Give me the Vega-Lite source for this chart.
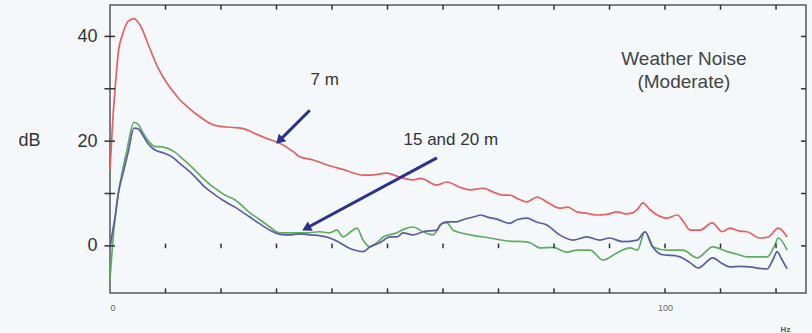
{
  "$schema": "https://vega.github.io/schema/vega-lite/v6.json",
  "width": 696,
  "height": 288,
  "autosize": {"type": "none"},
  "padding": {"left": 110, "top": 5, "right": 6, "bottom": 40},
  "background": "#f4f8fb",
  "config": {
    "view": {"stroke": "#555555", "strokeWidth": 1.5, "fill": "#f4f8fb"},
    "font": "Liberation Sans"
  },
  "datasets": {
    "curves": [
      {"hz": 0, "db": 14.5, "series": "7 m"}, {"hz": 0.5, "db": 24, "series": "7 m"}, {"hz": 1, "db": 31, "series": "7 m"}, {"hz": 1.5, "db": 37, "series": "7 m"}, {"hz": 2.3, "db": 40.5, "series": "7 m"}, {"hz": 3.2, "db": 42.8, "series": "7 m"}, {"hz": 4.3, "db": 43.4, "series": "7 m"}, {"hz": 5.5, "db": 42, "series": "7 m"}, {"hz": 6.8, "db": 38.7, "series": "7 m"}, {"hz": 8.6, "db": 34.1, "series": "7 m"}, {"hz": 10, "db": 31.5, "series": "7 m"}, {"hz": 11.2, "db": 29.7, "series": "7 m"}, {"hz": 12.5, "db": 28, "series": "7 m"}, {"hz": 14, "db": 26.5, "series": "7 m"}, {"hz": 16, "db": 24.8, "series": "7 m"}, {"hz": 18.9, "db": 23, "series": "7 m"}, {"hz": 21, "db": 22.7, "series": "7 m"}, {"hz": 22.5, "db": 22.6, "series": "7 m"}, {"hz": 24, "db": 22.4, "series": "7 m"}, {"hz": 26, "db": 21.5, "series": "7 m"}, {"hz": 28, "db": 20.6, "series": "7 m"}, {"hz": 30.6, "db": 19.6, "series": "7 m"}, {"hz": 33, "db": 18, "series": "7 m"}, {"hz": 34.2, "db": 17, "series": "7 m"}, {"hz": 36.6, "db": 16.4, "series": "7 m"}, {"hz": 39, "db": 15.5, "series": "7 m"}, {"hz": 42, "db": 14.6, "series": "7 m"}, {"hz": 45.6, "db": 13.5, "series": "7 m"}, {"hz": 47, "db": 13.5, "series": "7 m"}, {"hz": 49.9, "db": 13.9, "series": "7 m"}, {"hz": 52, "db": 13.2, "series": "7 m"}, {"hz": 54.6, "db": 12.6, "series": "7 m"}, {"hz": 56, "db": 12.9, "series": "7 m"}, {"hz": 58.9, "db": 11.6, "series": "7 m"}, {"hz": 60.7, "db": 12.2, "series": "7 m"}, {"hz": 63, "db": 11.2, "series": "7 m"}, {"hz": 64.9, "db": 10.7, "series": "7 m"}, {"hz": 67.2, "db": 11, "series": "7 m"}, {"hz": 69, "db": 10.3, "series": "7 m"}, {"hz": 70.8, "db": 9.7, "series": "7 m"}, {"hz": 72, "db": 9.7, "series": "7 m"}, {"hz": 73.9, "db": 8.8, "series": "7 m"}, {"hz": 75.1, "db": 8.4, "series": "7 m"}, {"hz": 76.9, "db": 9.3, "series": "7 m"}, {"hz": 79, "db": 8.2, "series": "7 m"}, {"hz": 81, "db": 7.2, "series": "7 m"}, {"hz": 82.5, "db": 7.4, "series": "7 m"}, {"hz": 84.1, "db": 6.5, "series": "7 m"}, {"hz": 86, "db": 6.2, "series": "7 m"}, {"hz": 87.7, "db": 5.9, "series": "7 m"}, {"hz": 89.5, "db": 6.0, "series": "7 m"}, {"hz": 91.4, "db": 6.5, "series": "7 m"}, {"hz": 93, "db": 6.1, "series": "7 m"}, {"hz": 94.2, "db": 6.3, "series": "7 m"}, {"hz": 95.2, "db": 7.2, "series": "7 m"}, {"hz": 96, "db": 8.2, "series": "7 m"}, {"hz": 97.3, "db": 6.9, "series": "7 m"}, {"hz": 98.6, "db": 5.9, "series": "7 m"}, {"hz": 100.4, "db": 5.3, "series": "7 m"}, {"hz": 102.2, "db": 5.9, "series": "7 m"}, {"hz": 103.4, "db": 4.5, "series": "7 m"}, {"hz": 104.5, "db": 3, "series": "7 m"}, {"hz": 106.3, "db": 3, "series": "7 m"}, {"hz": 108.5, "db": 4.4, "series": "7 m"}, {"hz": 110.3, "db": 2.7, "series": "7 m"}, {"hz": 111.7, "db": 3.4, "series": "7 m"}, {"hz": 113.5, "db": 2.8, "series": "7 m"}, {"hz": 114.8, "db": 2.7, "series": "7 m"}, {"hz": 117.1, "db": 1.5, "series": "7 m"}, {"hz": 118.6, "db": 1.7, "series": "7 m"}, {"hz": 120.4, "db": 3.4, "series": "7 m"}, {"hz": 122, "db": 1.7, "series": "7 m"},

      {"hz": 0, "db": -6.5, "series": "15 m"}, {"hz": 0.3, "db": -2, "series": "15 m"}, {"hz": 0.7, "db": 3, "series": "15 m"}, {"hz": 1.2, "db": 8, "series": "15 m"}, {"hz": 2, "db": 13, "series": "15 m"}, {"hz": 3, "db": 18, "series": "15 m"}, {"hz": 4.3, "db": 23.6, "series": "15 m"}, {"hz": 5, "db": 23.3, "series": "15 m"}, {"hz": 6, "db": 21.5, "series": "15 m"}, {"hz": 6.8, "db": 20.2, "series": "15 m"}, {"hz": 8, "db": 19, "series": "15 m"}, {"hz": 9.4, "db": 18.9, "series": "15 m"}, {"hz": 11.7, "db": 17.9, "series": "15 m"}, {"hz": 13.2, "db": 16.5, "series": "15 m"}, {"hz": 14.8, "db": 15, "series": "15 m"}, {"hz": 16.2, "db": 13.5, "series": "15 m"}, {"hz": 17.7, "db": 12, "series": "15 m"}, {"hz": 19.2, "db": 10.8, "series": "15 m"}, {"hz": 20.7, "db": 9.7, "series": "15 m"}, {"hz": 22.5, "db": 8.8, "series": "15 m"}, {"hz": 25.2, "db": 6.3, "series": "15 m"}, {"hz": 27, "db": 5, "series": "15 m"}, {"hz": 28.8, "db": 3.6, "series": "15 m"}, {"hz": 30.6, "db": 2.5, "series": "15 m"}, {"hz": 32.4, "db": 2.5, "series": "15 m"}, {"hz": 35.5, "db": 2.5, "series": "15 m"}, {"hz": 37.8, "db": 2.7, "series": "15 m"}, {"hz": 39.5, "db": 2.5, "series": "15 m"}, {"hz": 40.9, "db": 3, "series": "15 m"}, {"hz": 42, "db": 1.7, "series": "15 m"}, {"hz": 43.5, "db": 2.8, "series": "15 m"}, {"hz": 44.5, "db": 3.4, "series": "15 m"}, {"hz": 45.6, "db": 1.1, "series": "15 m"}, {"hz": 46.8, "db": -0.2, "series": "15 m"}, {"hz": 48.6, "db": 1.1, "series": "15 m"}, {"hz": 49.2, "db": 1.7, "series": "15 m"}, {"hz": 51.7, "db": 2.5, "series": "15 m"}, {"hz": 53, "db": 3.2, "series": "15 m"}, {"hz": 54.6, "db": 3.6, "series": "15 m"}, {"hz": 56.4, "db": 2.7, "series": "15 m"}, {"hz": 58.2, "db": 2.1, "series": "15 m"}, {"hz": 60, "db": 4.4, "series": "15 m"}, {"hz": 60.7, "db": 4.4, "series": "15 m"}, {"hz": 61.8, "db": 3, "series": "15 m"}, {"hz": 62.5, "db": 2.7, "series": "15 m"}, {"hz": 64.9, "db": 2.1, "series": "15 m"}, {"hz": 68.5, "db": 1.5, "series": "15 m"}, {"hz": 72, "db": 0.9, "series": "15 m"}, {"hz": 74.4, "db": 0.8, "series": "15 m"}, {"hz": 75.7, "db": 0.6, "series": "15 m"}, {"hz": 77.5, "db": -0.4, "series": "15 m"}, {"hz": 79.8, "db": -0.3, "series": "15 m"}, {"hz": 82.3, "db": -1.2, "series": "15 m"}, {"hz": 84.1, "db": -0.8, "series": "15 m"}, {"hz": 86.5, "db": -0.8, "series": "15 m"}, {"hz": 88.8, "db": -2.7, "series": "15 m"}, {"hz": 91.4, "db": -1.3, "series": "15 m"}, {"hz": 93.7, "db": -0.4, "series": "15 m"}, {"hz": 95, "db": -0.8, "series": "15 m"}, {"hz": 96.4, "db": 2.7, "series": "15 m"}, {"hz": 97.8, "db": -0.2, "series": "15 m"}, {"hz": 100.4, "db": -0.8, "series": "15 m"}, {"hz": 103.2, "db": -0.8, "series": "15 m"}, {"hz": 105.8, "db": -2.3, "series": "15 m"}, {"hz": 108.6, "db": -0.2, "series": "15 m"}, {"hz": 111.2, "db": -1.1, "series": "15 m"}, {"hz": 113, "db": -1.6, "series": "15 m"}, {"hz": 114.8, "db": -2.1, "series": "15 m"}, {"hz": 118.4, "db": -2.1, "series": "15 m"}, {"hz": 119.8, "db": 0.2, "series": "15 m"}, {"hz": 120.4, "db": 1.5, "series": "15 m"}, {"hz": 122, "db": -0.8, "series": "15 m"},

      {"hz": 0, "db": -0.5, "series": "20 m"}, {"hz": 0.5, "db": 3, "series": "20 m"}, {"hz": 1, "db": 6, "series": "20 m"}, {"hz": 1.5, "db": 10, "series": "20 m"}, {"hz": 2.5, "db": 14.5, "series": "20 m"}, {"hz": 3.3, "db": 18, "series": "20 m"}, {"hz": 4.3, "db": 22.5, "series": "20 m"}, {"hz": 5, "db": 22.4, "series": "20 m"}, {"hz": 6, "db": 21, "series": "20 m"}, {"hz": 6.8, "db": 19.6, "series": "20 m"}, {"hz": 8.1, "db": 18.3, "series": "20 m"}, {"hz": 9.5, "db": 17.8, "series": "20 m"}, {"hz": 11.2, "db": 17, "series": "20 m"}, {"hz": 12.5, "db": 15.8, "series": "20 m"}, {"hz": 14, "db": 14.5, "series": "20 m"}, {"hz": 15.5, "db": 13, "series": "20 m"}, {"hz": 17.1, "db": 11.2, "series": "20 m"}, {"hz": 18.6, "db": 10, "series": "20 m"}, {"hz": 20.2, "db": 8.8, "series": "20 m"}, {"hz": 22.5, "db": 7.4, "series": "20 m"}, {"hz": 25.2, "db": 5.5, "series": "20 m"}, {"hz": 27, "db": 4.2, "series": "20 m"}, {"hz": 28.8, "db": 3, "series": "20 m"}, {"hz": 30.6, "db": 2.2, "series": "20 m"}, {"hz": 32.4, "db": 2.1, "series": "20 m"}, {"hz": 34, "db": 2.3, "series": "20 m"}, {"hz": 36, "db": 2.1, "series": "20 m"}, {"hz": 38, "db": 1.9, "series": "20 m"}, {"hz": 39.6, "db": 1.5, "series": "20 m"}, {"hz": 41.4, "db": 0.6, "series": "20 m"}, {"hz": 42.7, "db": -0.2, "series": "20 m"}, {"hz": 44, "db": -0.8, "series": "20 m"}, {"hz": 45.6, "db": -1.1, "series": "20 m"}, {"hz": 46.8, "db": -0.2, "series": "20 m"}, {"hz": 48.6, "db": 0.6, "series": "20 m"}, {"hz": 50.5, "db": 1.7, "series": "20 m"}, {"hz": 51.7, "db": 1.7, "series": "20 m"}, {"hz": 52.8, "db": 2.5, "series": "20 m"}, {"hz": 54.6, "db": 2.1, "series": "20 m"}, {"hz": 56.4, "db": 2.7, "series": "20 m"}, {"hz": 58.9, "db": 3, "series": "20 m"}, {"hz": 59.5, "db": 4, "series": "20 m"}, {"hz": 60.7, "db": 4.6, "series": "20 m"}, {"hz": 62.5, "db": 4.6, "series": "20 m"}, {"hz": 63.6, "db": 5, "series": "20 m"}, {"hz": 66.1, "db": 5.7, "series": "20 m"}, {"hz": 66.7, "db": 5.9, "series": "20 m"}, {"hz": 68, "db": 5.5, "series": "20 m"}, {"hz": 69.7, "db": 5.1, "series": "20 m"}, {"hz": 72, "db": 4.3, "series": "20 m"}, {"hz": 73.3, "db": 5, "series": "20 m"}, {"hz": 75.1, "db": 5.3, "series": "20 m"}, {"hz": 77, "db": 4.5, "series": "20 m"}, {"hz": 78.7, "db": 4, "series": "20 m"}, {"hz": 81, "db": 2.1, "series": "20 m"}, {"hz": 83.4, "db": 1.1, "series": "20 m"}, {"hz": 85.9, "db": 1.7, "series": "20 m"}, {"hz": 88.3, "db": 1.1, "series": "20 m"}, {"hz": 90, "db": 1.5, "series": "20 m"}, {"hz": 92.4, "db": 0.8, "series": "20 m"}, {"hz": 95, "db": 1.1, "series": "20 m"}, {"hz": 96.4, "db": 2.7, "series": "20 m"}, {"hz": 97.8, "db": -0.2, "series": "20 m"}, {"hz": 99.6, "db": -1.7, "series": "20 m"}, {"hz": 101, "db": -1.8, "series": "20 m"}, {"hz": 102.7, "db": -2.1, "series": "20 m"}, {"hz": 104.5, "db": -3.2, "series": "20 m"}, {"hz": 106, "db": -4.2, "series": "20 m"}, {"hz": 108.6, "db": -2.3, "series": "20 m"}, {"hz": 110.2, "db": -3.3, "series": "20 m"}, {"hz": 111.7, "db": -4, "series": "20 m"}, {"hz": 113.5, "db": -3.9, "series": "20 m"}, {"hz": 115.3, "db": -4, "series": "20 m"}, {"hz": 117, "db": -4.3, "series": "20 m"}, {"hz": 118.4, "db": -4.4, "series": "20 m"}, {"hz": 119.5, "db": -2.5, "series": "20 m"}, {"hz": 120.2, "db": -1.1, "series": "20 m"}, {"hz": 121, "db": -2.5, "series": "20 m"}, {"hz": 122, "db": -4.4, "series": "20 m"}
    ],
    "xticks": [{"v": 10}, {"v": 20}, {"v": 30}, {"v": 40}, {"v": 50}, {"v": 60}, {"v": 70}, {"v": 80}, {"v": 90}, {"v": 100}, {"v": 110}, {"v": 120}],
    "yticks": [{"v": 0}, {"v": 10}, {"v": 20}, {"v": 30}, {"v": 40}],
    "labels": [
      {"hz": 38.7, "db": 31.6, "text": "7 m", "kind": "note"},
      {"hz": 61.4, "db": 20.2, "text": "15 and 20 m", "kind": "note"},
      {"hz": 103.4, "db": 35.6, "text": "Weather Noise", "kind": "title"},
      {"hz": 103.4, "db": 31.2, "text": "(Moderate)", "kind": "title"}
    ],
    "arrows": [
      {"id": "a", "hz1": 36.0, "db1": 25.9, "hz2": 30.7, "db2": 20.3},
      {"id": "b", "hz1": 58.9, "db1": 16.8, "hz2": 35.6, "db2": 3.5}
    ]
  },
  "layer": [
    {
      "data": {"name": "curves"},
      "mark": {"type": "line", "strokeWidth": 1.7, "clip": true, "interpolate": "monotone"},
      "encoding": {
        "x": {"field": "hz", "type": "quantitative", "scale": {"domain": [0, 125.4], "nice": false},
          "axis": {"orient": "bottom", "grid": false, "domain": false, "ticks": false,
            "values": [0, 100], "labelFontSize": 9, "labelColor": "#666666", "labelPadding": 10,
            "title": "Hz", "titleX": 675, "titleY": 32, "titleFontSize": 8, "titleColor": "#555555", "titleFontWeight": "bold"}},
        "y": {"field": "db", "type": "quantitative", "scale": {"domain": [-9, 46], "nice": false, "zero": false},
          "axis": {"orient": "left", "grid": false, "domain": false, "ticks": false,
            "values": [0, 20, 40], "labelFontSize": 18, "labelPadding": 13, "labelColor": "#333333",
            "title": "dB", "titleAngle": 0, "titleX": -81, "titleY": 135, "titleAlign": "center", "titleBaseline": "middle",
            "titleFontSize": 18, "titleFontWeight": "normal", "titleColor": "#333333"}},
        "color": {"field": "series", "type": "nominal", "scale": {"domain": ["7 m", "15 m", "20 m"], "range": ["#e8605f", "#5fae5f", "#5b5ea6"]}, "legend": null},
        "order": {"field": "series"}
      }
    },
    {
      "mark": {"type": "rule", "color": "#444444", "strokeWidth": 1.5},
      "encoding": {"y": {"datum": 0}}
    },
    {
      "data": {"name": "xticks"},
      "mark": {"type": "rule", "color": "#333333", "strokeWidth": 1.5},
      "encoding": {"x": {"field": "v", "type": "quantitative"}, "y": {"datum": -9}, "y2": {"datum": -8.1}}
    },
    {
      "data": {"name": "xticks"},
      "mark": {"type": "rule", "color": "#333333", "strokeWidth": 1.5},
      "encoding": {"x": {"field": "v", "type": "quantitative"}, "y": {"datum": 46}, "y2": {"datum": 45.1}}
    },
    {
      "data": {"name": "xticks"},
      "mark": {"type": "rule", "color": "#333333", "strokeWidth": 1.5},
      "encoding": {"x": {"field": "v", "type": "quantitative"}, "y": {"datum": -0.45}, "y2": {"datum": 0.45}}
    },
    {
      "data": {"name": "yticks"},
      "mark": {"type": "rule", "color": "#333333", "strokeWidth": 1.5},
      "encoding": {"y": {"field": "v", "type": "quantitative"}, "x": {"datum": -1}, "x2": {"datum": 0.9}}
    },
    {
      "data": {"name": "yticks"},
      "mark": {"type": "rule", "color": "#333333", "strokeWidth": 1.5},
      "encoding": {"y": {"field": "v", "type": "quantitative"}, "x": {"datum": 124.5}, "x2": {"datum": 125.4}}
    },
    {
      "data": {"name": "labels"},
      "transform": [{"filter": "datum.kind == 'note'"}],
      "mark": {"type": "text", "fontSize": 17, "color": "#333333", "align": "center", "baseline": "middle"},
      "encoding": {
        "x": {"field": "hz", "type": "quantitative"},
        "y": {"field": "db", "type": "quantitative"},
        "text": {"field": "text"}
      }
    },
    {
      "data": {"name": "labels"},
      "transform": [{"filter": "datum.kind == 'title'"}],
      "mark": {"type": "text", "fontSize": 19, "color": "#444444", "align": "center", "baseline": "middle"},
      "encoding": {
        "x": {"field": "hz", "type": "quantitative"},
        "y": {"field": "db", "type": "quantitative"},
        "text": {"field": "text"}
      }
    },
    {
      "data": {"name": "arrows"},
      "mark": {"type": "rule", "color": "#2e308f", "strokeWidth": 3},
      "encoding": {
        "x": {"field": "hz1", "type": "quantitative"},
        "y": {"field": "db1", "type": "quantitative"},
        "x2": {"field": "hz2"},
        "y2": {"field": "db2"}
      }
    },
    {
      "data": {"name": "arrows"},
      "transform": [{"filter": "datum.id == 'a'"}],
      "mark": {"type": "point", "shape": "triangle", "filled": true, "color": "#2e308f", "opacity": 1, "size": 110, "angle": 225},
      "encoding": {
        "x": {"field": "hz2", "type": "quantitative"},
        "y": {"field": "db2", "type": "quantitative"}
      }
    },
    {
      "data": {"name": "arrows"},
      "transform": [{"filter": "datum.id == 'b'"}],
      "mark": {"type": "point", "shape": "triangle", "filled": true, "color": "#2e308f", "opacity": 1, "size": 110, "angle": 242},
      "encoding": {
        "x": {"field": "hz2", "type": "quantitative"},
        "y": {"field": "db2", "type": "quantitative"}
      }
    }
  ]
}
